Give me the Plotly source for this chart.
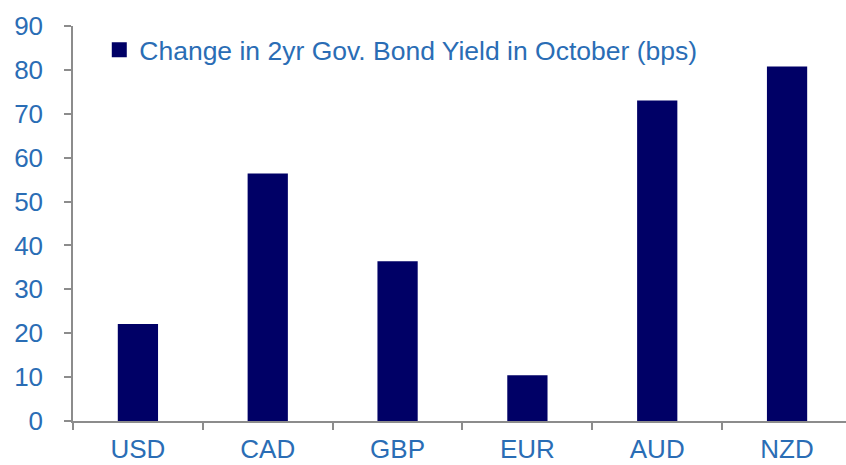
import plotly.graph_objects as go

categories = ["USD", "CAD", "GBP", "EUR", "AUD", "NZD"]
values = [22.1, 56.4, 36.4, 10.4, 73.0, 80.8]
series_name = "Change in 2yr Gov. Bond Yield in October (bps)"
y_ticks = [0, 10, 20, 30, 40, 50, 60, 70, 80, 90]

bar_color = "#000066"
text_color = "#2A6DB5"
axis_color = "#8C8C8C"
font_family = "Liberation Sans, Arial, sans-serif"
font_size = 26

fig = go.Figure()
fig.add_trace(go.Bar(
    x=categories, y=values, name=series_name,
    marker=dict(color=bar_color, line=dict(width=0)),
    showlegend=False,
))
# legend entry (square swatch) for the bar series
fig.add_trace(go.Scatter(
    x=[None], y=[None], mode="markers", name=series_name,
    marker=dict(symbol="square", size=15, color=bar_color),
    showlegend=True,
))

fig.update_layout(
    width=846, height=465,
    margin=dict(l=73, r=0, t=26, b=44),
    paper_bgcolor="white", plot_bgcolor="white",
    font=dict(family=font_family, size=font_size, color=text_color),
    bargap=0.69,
    showlegend=True,
    legend=dict(
        x=0.034, y=1.0, xanchor="left", yanchor="top",
        bgcolor="rgba(0,0,0,0)",
        font=dict(size=26.5, color=text_color, family=font_family),
    ),
    xaxis=dict(
        range=[-0.5, 5.454],
        showgrid=False, zeroline=False,
        showline=True, linecolor=axis_color, linewidth=1.5,
        ticks="outside", ticklen=7, tickcolor=axis_color, tickwidth=1.5,
        tickson="boundaries",
        tickfont=dict(size=font_size, color=text_color),
        ticklabelstandoff=4,
    ),
    yaxis=dict(
        range=[0, 90],
        tickvals=y_ticks,
        showgrid=False, zeroline=False,
        showline=True, linecolor=axis_color, linewidth=1.5,
        ticks="outside", ticklen=7, tickcolor=axis_color, tickwidth=1.5,
        tickfont=dict(size=font_size, color=text_color),
        ticklabelstandoff=16,
    ),
)

fig.write_html(
    "out.html",
    config={"displayModeBar": False},
    post_script="document.body.style.margin='0px';",
)
